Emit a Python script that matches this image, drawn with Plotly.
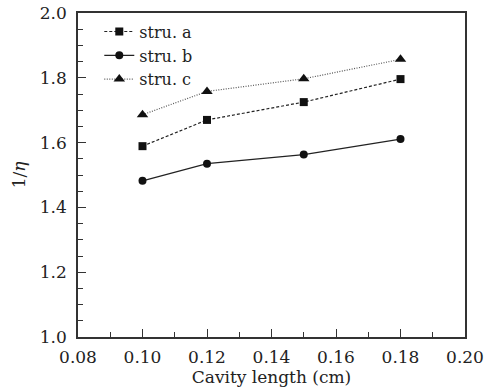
import plotly.graph_objects as go

x_vals = [0.10, 0.12, 0.15, 0.18]
stru_a = [1.589, 1.670, 1.725, 1.796]
stru_b = [1.482, 1.535, 1.563, 1.611]
stru_c = [1.686, 1.758, 1.797, 1.857]
series_names = ["stru. a", "stru. b", "stru. c"]
x_tick_vals = [0.08, 0.10, 0.12, 0.14, 0.16, 0.18, 0.20]
x_tick_text = ["0.08", "0.10", "0.12", "0.14", "0.16", "0.18", "0.20"]
y_tick_vals = [1.0, 1.2, 1.4, 1.6, 1.8, 2.0]
y_tick_text = ["1.0", "1.2", "1.4", "1.6", "1.8", "2.0"]

FONT = "DejaVu Serif, serif"
TXT = "#222"

fig = go.Figure()
fig.add_trace(go.Scatter(x=x_vals, y=stru_a, name=series_names[0], mode="lines+markers",
                         line=dict(color="#222", width=1.2, dash="3px,2px"),
                         marker=dict(symbol="square", size=8, color="#111")))
fig.add_trace(go.Scatter(x=x_vals, y=stru_b, name=series_names[1], mode="lines+markers",
                         line=dict(color="#222", width=1.2),
                         marker=dict(symbol="circle", size=8, color="#111")))
fig.add_trace(go.Scatter(x=x_vals, y=stru_c, name=series_names[2], mode="lines+markers",
                         line=dict(color="#555", width=1.2, dash="1px,1.5px"),
                         marker=dict(symbol="triangle-up", size=10, color="#111")))

axis_common = dict(showline=True, linecolor="#333", linewidth=1.5, mirror=True,
                   ticks="inside", ticklen=8, tickcolor="#333", tickwidth=1,
                   showgrid=False, zeroline=False, automargin=False,
                   tickfont=dict(family=FONT, size=17, color=TXT))

fig.update_xaxes(range=[0.08, 0.20], tickvals=x_tick_vals, ticktext=x_tick_text,
                 minor=dict(ticks="inside", ticklen=5, dtick=0.01, tick0=0.08, tickcolor="#333"),
                 ticklabelstandoff=4,
                 title=dict(text="Cavity length (cm)", font=dict(family=FONT, size=17, color=TXT), standoff=5),
                 **axis_common)
fig.update_yaxes(range=[1.0, 2.0], tickvals=y_tick_vals, ticktext=y_tick_text,
                 minor=dict(ticks="inside", ticklen=5, dtick=0.05, tick0=1.0, tickcolor="#333"),
                 ticklabelstandoff=6,
                 title=dict(text="1/<i>η</i>", font=dict(family=FONT, size=17, color=TXT), standoff=10),
                 **axis_common)

fig.update_layout(
    width=487, height=392,
    margin=dict(l=78, r=22, t=13, b=55),
    paper_bgcolor="white", plot_bgcolor="white",
    font=dict(family=FONT, size=17, color=TXT),
    legend=dict(x=0.055, y=0.995, xanchor="left", yanchor="top",
                bgcolor="rgba(0,0,0,0)", font=dict(family=FONT, size=16, color=TXT),
                tracegroupgap=0, itemwidth=30),
    showlegend=True,
)

fig.write_html("out.html", config={"displayModeBar": False},
               post_script="document.body.style.margin='0';document.body.style.overflow='hidden';")
